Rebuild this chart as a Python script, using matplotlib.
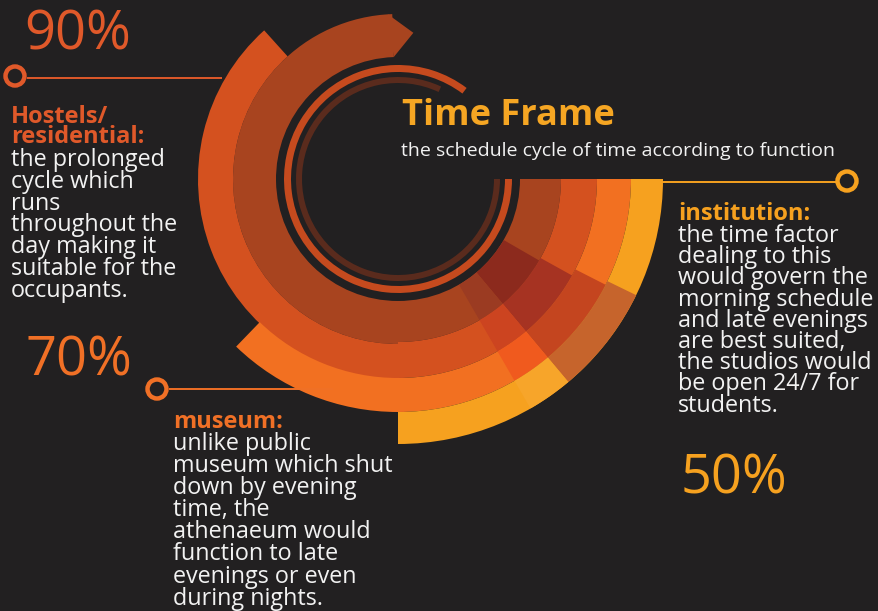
import matplotlib
matplotlib.use("Agg")
import matplotlib.pyplot as plt
from matplotlib.patches import Wedge, Circle, Polygon
import numpy as np

# ---- chart data ----
categories = ["Hostels/\nresidential:", "museum:", "institution:"]
percentages = [90, 70, 50]
title = "Time Frame"
subtitle = "the schedule cycle of time according to function"
descriptions = [
    ["the prolonged", "cycle which", "runs", "throughout the",
     "day making it", "suitable for the", "occupants."],
    ["unlike public", "museum which shut", "down by evening", "time, the",
     "athenaeum would", "function to late", "evenings or even", "during nights."],
    ["the time factor", "dealing to this", "would govern the", "morning schedule",
     "and late evenings", "are best suited,", "the studios would",
     "be open 24/7 for", "students."],
]

# ---- styling ----
BG = "#222021"
WHITE = "#f2f2f2"
RUST = "#a8441f"
ORED = "#d4511f"
ORANGE = "#f27021"
YELLOW = "#f6a11f"
label_colors = ["#e0592a", "#f07026", "#f6a11f"]
FONT = "Open Sans"

W, H = 879, 611
cx, cy = 398, 179          # centre of the rings (pixel coords, y down)
ring_r = [122, 163, 199, 233, 265]   # ring boundaries A..D

fig = plt.figure(figsize=(W / 100, H / 100), dpi=100, facecolor=BG)
ax = fig.add_axes([0, 0, 1, 1])
ax.set_xlim(0, W)
ax.set_ylim(H, 0)
ax.set_facecolor(BG)
ax.axis("off")


def arc(r_in, r_out, a, b, color, alpha=1.0):
    # a, b are angles measured counter-clockwise on screen (east = 0)
    ax.add_patch(Wedge((cx, cy), r_out, -b, -a, width=r_out - r_in,
                       facecolor=color, edgecolor="none", alpha=alpha))


def pt(r, ang):
    t = np.radians(ang)
    return (cx + r * np.cos(t), cy - r * np.sin(t))


# thin inner rings
arc(96, 102, 65, 360, "#5a2b1d")
arc(107, 114, 53, 360, "#c54a1e")

# hostels: two rings from the top round the left
arc(ring_r[0], ring_r[1] + 2, 92, 270, RUST)
ax.add_patch(Polygon([pt(ring_r[1] + 2, 93.5), pt(147, 84), pt(ring_r[0], 92)],
                     closed=True, facecolor=RUST, edgecolor="none"))
arc(ring_r[1] + 2, ring_r[2] + 1, 132, 270, ORED)

# museum: one ring from the lower left
arc(ring_r[2], ring_r[3], 226, 270, ORANGE)

# institution: full quarter, four rings
inst_cols = [RUST, ORED, ORANGE, YELLOW]
for i, c in enumerate(inst_cols):
    arc(ring_r[i], ring_r[i + 1], 270, 360, c)

# overlap zones
blend_dark = ["#8c2a1d", "#a63322", "#c4451f", "#c6642c"]
blend_dark_end = [330, 331, 333, 334]
blend_light = ["#9b3b22", "#cc4420", "#f05a1e", "#f7a52a"]
for i in range(4):
    arc(ring_r[i], ring_r[i + 1], 310, blend_dark_end[i], blend_dark[i])
    arc(ring_r[i], ring_r[i + 1], 300, 310, blend_light[i])

# title
ax.text(402, 125, title, color="#f6a623", fontsize=26, fontweight="bold",
        family=FONT, va="baseline", ha="left")
ax.text(401, 156, subtitle, color=WHITE, fontsize=14, family=FONT,
        va="baseline", ha="left")

# connector lines and markers
lines = [((27, 222), 78), ((169, 333), 389), ((660, 836), 182)]
markers = [(15, 76), (157, 389), (847, 181)]
for (x0x1, y), (mx, my), c in zip(lines, markers, label_colors):
    ax.plot(x0x1, [y, y], color=c, lw=1.4, solid_capstyle="butt")
    ax.add_patch(Circle((mx, my), 9.5, facecolor=BG, edgecolor=c, lw=3.2))

# percentage labels
pct_pos = [(24, 50), (26, 375), (681, 493)]
for p, (x, y), c in zip(percentages, pct_pos, label_colors):
    ax.text(x, y, f"{p}%", color=c, fontsize=39, family=FONT,
            va="baseline", ha="left")

# headings and descriptions
head_pos = [(11, 123), (173, 428), (678, 220)]
desc_start = [166, 450, 242]
desc_step = [21.8, 22.1, 21.2]
for k in range(3):
    hx, hy = head_pos[k]
    for j, line in enumerate(categories[k].split("\n")):
        ax.text(hx, hy + j * 20, line, color=label_colors[k], fontsize=17,
                fontweight="bold", family=FONT, va="baseline", ha="left")
    for j, line in enumerate(descriptions[k]):
        ax.text(hx, desc_start[k] + j * desc_step[k], line, color=WHITE,
                fontsize=16.8, family=FONT, va="baseline", ha="left")

fig.savefig("out.png", dpi=100, facecolor=BG)
